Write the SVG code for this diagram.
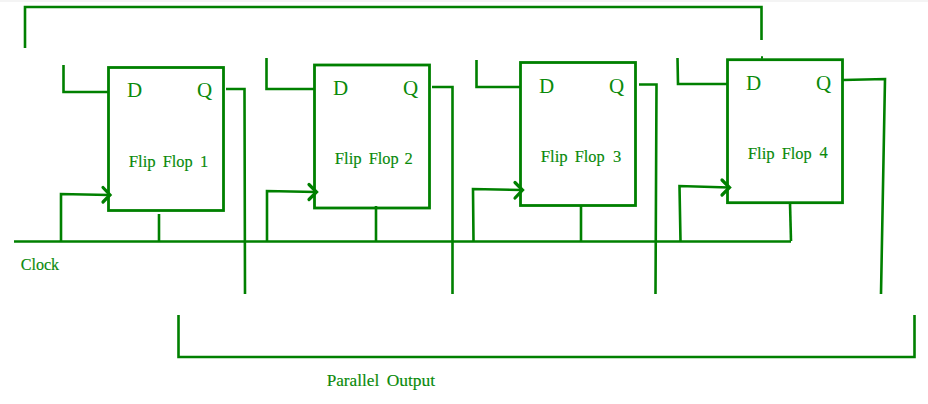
<svg xmlns="http://www.w3.org/2000/svg" width="928" height="404" viewBox="0 0 928 404">
<style>
.w{fill:none;stroke:#008000;stroke-width:2.6}
.a{fill:none;stroke:#008000;stroke-width:3.2;stroke-linecap:round}
.b{fill:#fff;stroke:#008000;stroke-width:2.8}
text{font-family:"Liberation Serif",serif;fill:#0a8a0a}
.p{font-size:21px}
.l{font-size:16.500px;stroke:#0a8a0a;stroke-width:.15}
</style>
<rect x="0" y="0" width="928" height="2" fill="#f4f4f4"/>
<g id="ff1"><rect class="b" x="108.500" y="67.500" width="115" height="143"/>
<text class="p" x="127" y="97">D</text><text class="p" x="197" y="97">Q</text>
<text class="l" x="128.700" y="167" textLength="27" lengthAdjust="spacingAndGlyphs">Flip</text><text class="l" x="162.700" y="167" textLength="30" lengthAdjust="spacingAndGlyphs">Flop</text><text class="l" x="200" y="167">1</text></g>
<g id="ff2"><rect class="b" x="314.500" y="65" width="115" height="143"/>
<text class="p" x="333" y="94.500">D</text><text class="p" x="403" y="94.500">Q</text>
<text class="l" x="334.700" y="164" textLength="27" lengthAdjust="spacingAndGlyphs">Flip</text><text class="l" x="368.700" y="164" textLength="30" lengthAdjust="spacingAndGlyphs">Flop</text><text class="l" x="404.500" y="164">2</text></g>
<g id="ff3"><rect class="b" x="520.500" y="62.500" width="115" height="143"/>
<text class="p" x="539" y="92.500">D</text><text class="p" x="609" y="92.500">Q</text>
<text class="l" x="540.700" y="162" textLength="27" lengthAdjust="spacingAndGlyphs">Flip</text><text class="l" x="574.700" y="162" textLength="30" lengthAdjust="spacingAndGlyphs">Flop</text><text class="l" x="613" y="162">3</text></g>
<g id="ff4"><rect class="b" x="727.500" y="59.700" width="115" height="143"/>
<text class="p" x="746" y="89.500">D</text><text class="p" x="816" y="89.500">Q</text>
<text class="l" x="747.700" y="159" textLength="27" lengthAdjust="spacingAndGlyphs">Flip</text><text class="l" x="781.700" y="159" textLength="30" lengthAdjust="spacingAndGlyphs">Flop</text><text class="l" x="819.500" y="158">4</text></g>
<g id="clock"><text class="l" x="20.700" y="270" textLength="38.500" lengthAdjust="spacingAndGlyphs">Clock</text></g>
<g id="parallel-output"><text class="l" x="326.700" y="386" textLength="52.500" lengthAdjust="spacingAndGlyphs">Parallel</text><text class="l" x="386.700" y="386" textLength="48.500" lengthAdjust="spacingAndGlyphs">Output</text></g>
<g id="connectors">
<path class="w" d="M25 48V7H761.500V40"/>
<path class="w" d="M761 57.500h2"/>
<path class="w" d="M14 241.500H791"/>
<path class="w" d="M178.500 315V357H914.500V315"/>
<path class="w" d="M63.500 65V92H108"/>
<path class="w" d="M266.500 58V89H314"/>
<path class="w" d="M476.500 60V87H520"/>
<path class="w" d="M677.500 58L678 84H727"/>
<path class="w" d="M226 89H244.500L245 294"/>
<path class="w" d="M432 87H452.500V294"/>
<path class="w" d="M639 84.500H656.500L655.500 294"/>
<path class="w" d="M843 80L885 79L881 294"/>
<path class="w" d="M61 241V194L109 195"/>
<path class="a" d="M103 187.500L110 195L103 202"/>
<path class="w" d="M267 241V191L316 192"/>
<path class="a" d="M309 184.500L316.500 192L309 199.500"/>
<path class="w" d="M473.500 241L473 189L522 190"/>
<path class="a" d="M515 182.500L522.500 190L515 198"/>
<path class="w" d="M680.500 241L679.500 186L729 187.500"/>
<path class="a" d="M722 180L729.500 187.500L722 195"/>
<path class="w" d="M159 214V241"/>
<path class="w" d="M376 206V241"/>
<path class="w" d="M581 206V241"/>
<path class="w" d="M790 203L791 241"/>
</g>
</svg>
